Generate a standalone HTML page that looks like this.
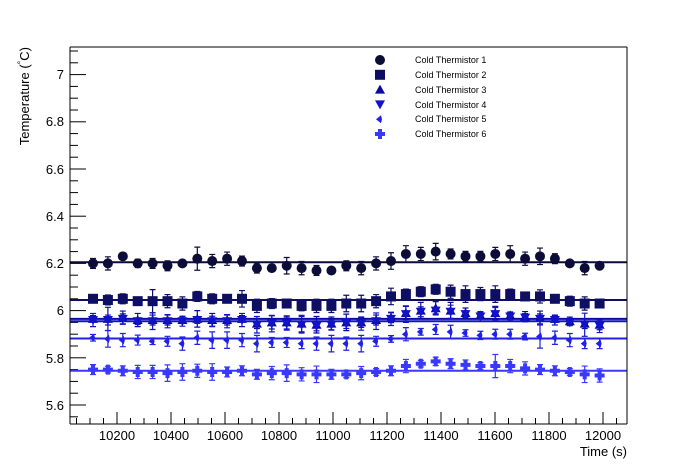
<!DOCTYPE html><html><head><style>body{margin:0;background:#fff}svg{display:block;font-family:"Liberation Sans",sans-serif}</style></head><body>
<svg id="s" width="696" height="472" xmlns="http://www.w3.org/2000/svg">
<rect width="696" height="472" fill="#fff"/>
<g id="g"></g>
<line x1="70" y1="47" x2="627" y2="47" stroke="#000"/>
<line x1="627" y1="47" x2="627" y2="424" stroke="#000"/>
<line x1="70" y1="47" x2="70" y2="424" stroke="#000"/>
<line x1="70" y1="424" x2="627" y2="424" stroke="#000"/>
<g font-size="13" text-anchor="end">
<text x="64" y="79">7</text><text x="64" y="126">6.8</text><text x="64" y="174">6.6</text><text x="64" y="221">6.4</text><text x="64" y="268">6.2</text><text x="64" y="315">6</text><text x="64" y="363">5.8</text><text x="64" y="410">5.6</text>
</g>
<g font-size="13" text-anchor="middle" id="xl"></g>
<text x="627" y="456" font-size="13" text-anchor="end">Time (s)</text>
<text transform="translate(29,47) rotate(-90)" font-size="13" text-anchor="end">Temperature (<tspan font-size="9" dy="-5">°</tspan><tspan dy="5">C)</tspan></text>
<g font-size="9">
<text x="415" y="63">Cold Thermistor 1</text><text x="415" y="78">Cold Thermistor 2</text><text x="415" y="93">Cold Thermistor 3</text><text x="415" y="108">Cold Thermistor 4</text><text x="415" y="122">Cold Thermistor 5</text><text x="415" y="137">Cold Thermistor 6</text>
</g>
</svg>
<script>
var g=document.getElementById('g'),h='',xl='';
function Y(v){return 405-(v-5.6)*236;}
function X(t){return 603+(t-12000)*0.27;}
for(var v=5.55;v<=7.14;v+=0.05){var y=Y(v),maj=Math.abs(Math.round(v*5)-v*5)<0.01;if(y<47||y>424)continue;h+='<line x1="70" x2="'+(70+(maj?16:8))+'" y1="'+y+'" y2="'+y+'" stroke="#000"/>';}
for(var t=9900;t<=12150;t+=50){var x=X(t);if(x<71||x>626)continue;var maj=t%200==0;h+='<line x1="'+x+'" x2="'+x+'" y1="424" y2="'+(424-(maj?12:6))+'" stroke="#000"/>';if(maj)xl+='<text x="'+x+'" y="440">'+t+'</text>';}
document.getElementById('xl').innerHTML=xl;
var S=[
{c:'#0c0c38',f:6.205,m:'c',d:[6.20,6.20,6.23,6.20,6.20,6.19,6.20,6.22,6.21,6.22,6.21,6.18,6.18,6.19,6.18,6.17,6.17,6.19,6.18,6.20,6.21,6.24,6.24,6.25,6.24,6.23,6.23,6.24,6.24,6.22,6.23,6.22,6.20,6.18,6.19]},
{c:'#0e0e62',f:6.045,m:'s',d:[6.05,6.045,6.05,6.04,6.04,6.04,6.03,6.06,6.05,6.05,6.05,6.02,6.03,6.03,6.02,6.02,6.02,6.03,6.03,6.04,6.06,6.07,6.08,6.09,6.08,6.07,6.07,6.07,6.07,6.06,6.06,6.05,6.04,6.03,6.03]},
{c:'#0a0aa0',f:5.965,m:'t',d:[5.965,5.965,5.97,5.96,5.96,5.96,5.96,5.965,5.96,5.96,5.965,5.945,5.95,5.95,5.945,5.94,5.945,5.95,5.95,5.96,5.97,5.99,6.0,6.01,6.0,5.99,5.98,5.99,5.98,5.975,5.97,5.965,5.955,5.945,5.94]},
{c:'#1212c8',f:5.955,m:'v',d:[5.96,5.96,5.965,5.955,5.955,5.955,5.955,5.96,5.955,5.955,5.96,5.94,5.945,5.945,5.94,5.935,5.94,5.945,5.945,5.955,5.965,5.985,5.995,6.0,5.995,5.985,5.975,5.985,5.975,5.97,5.965,5.96,5.95,5.94,5.935]},
{c:'#2020e6',f:5.882,m:'d',d:[5.885,5.88,5.875,5.875,5.87,5.87,5.86,5.885,5.875,5.875,5.875,5.86,5.865,5.865,5.86,5.86,5.86,5.86,5.86,5.87,5.88,5.9,5.91,5.92,5.91,5.905,5.895,5.9,5.9,5.89,5.89,5.885,5.875,5.86,5.86]},
{c:'#3838ff',f:5.745,m:'p',d:[5.75,5.75,5.745,5.74,5.74,5.735,5.74,5.745,5.74,5.74,5.745,5.73,5.735,5.735,5.73,5.73,5.73,5.73,5.735,5.74,5.745,5.765,5.775,5.785,5.775,5.77,5.765,5.765,5.765,5.755,5.75,5.745,5.74,5.73,5.725]}];
var er=[.03,.04,.02,.025,.03,.03,.02,.07,.04,.04,.03,.03,.02,.05,.04,.03,.02,.03,.04,.04,.05,.05,.04,.05,.03,.03,.03,.04,.05,.04,.05,.03,.02,.04,.02];
function mk(m,x,y,c){
 if(m=='c')return '<circle cx="'+x+'" cy="'+y+'" r="5" fill="'+c+'"/>';
 if(m=='s')return '<rect x="'+(x-5)+'" y="'+(y-5)+'" width="10" height="10" fill="'+c+'"/>';
 if(m=='t')return '<polygon points="'+x+','+(y-5)+' '+(x+5)+','+(y+4)+' '+(x-5)+','+(y+4)+'" fill="'+c+'"/>';
 if(m=='v')return '<polygon points="'+x+','+(y+5)+' '+(x+5)+','+(y-4)+' '+(x-5)+','+(y-4)+'" fill="'+c+'"/>';
 if(m=='d')return '<polygon points="'+(x-4)+','+y+' '+(x+1)+','+(y-4)+' '+(x+2)+','+y+' '+(x+1)+','+(y+4)+'" fill="'+c+'"/>';
 return '<path d="M'+(x-2)+' '+(y-5)+'h4v3h3v4h-3v3h-4v-3h-3v-4h3z" fill="'+c+'"/>';}
S.forEach(function(s,k){
 s.d.forEach(function(v,i){var x=93+i*14.9,y=Y(v),e=er[(i+k*3)%35]*236*0.7;
  h+='<path d="M'+x+' '+(y-e)+'V'+(y+e)+'M'+(x-3)+' '+(y-e)+'h6M'+(x-3)+' '+(y+e)+'h6" stroke="'+s.c+'" stroke-width="1.2"/>';
  h+=mk(s.m,x,y,s.c);});
 h+='<line x1="70" x2="627" y1="'+Y(s.f)+'" y2="'+Y(s.f)+'" stroke="'+s.c+'" stroke-width="2"/>';
 h+=mk(s.m,380,60+k*14.8,s.c);
});
g.innerHTML=h;
</script>
</body></html>
